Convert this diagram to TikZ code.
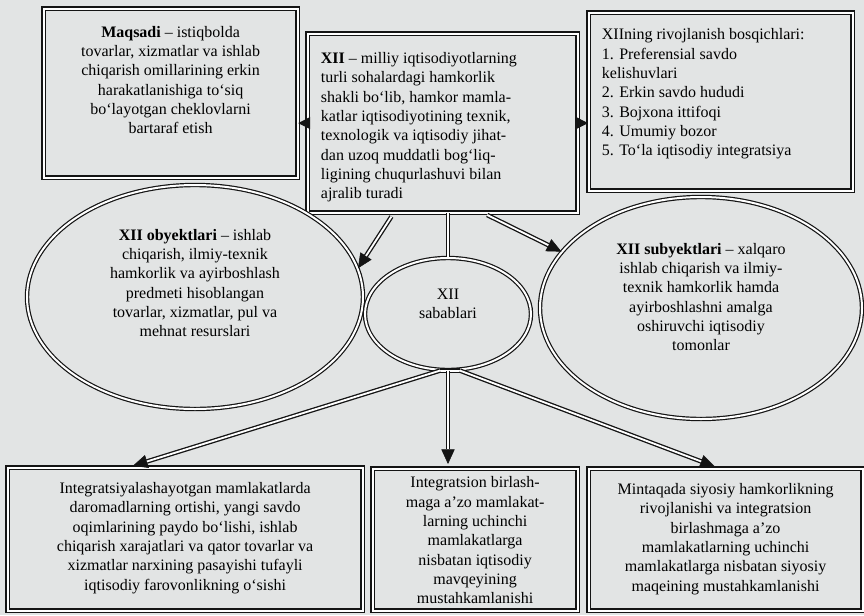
\documentclass[tikz,border=0pt]{standalone}
\usepackage{fontspec}
\setmainfont{Liberation Serif}
\usetikzlibrary{arrows.meta,positioning,calc,shapes.geometric}
\definecolor{paper}{RGB}{226,228,228}
\definecolor{ink}{RGB}{20,20,20}
\newcommand{\topbox}[3]{\parbox[c][#1][t]{#2}{#3}}

\begin{document}
\begin{tikzpicture}[x=0.75pt,y=-0.75pt,
  dbl/.style={draw=ink, line width=0.9pt, double=white, double distance=1.5pt},
  box/.style={dbl, anchor=north west, inner xsep=10pt, inner ysep=9pt,
              font=\fontsize{12}{14.5}\selectfont},
  oval/.style={dbl, ellipse, inner sep=0pt},
  txt/.style={align=center, font=\fontsize{12}{14.5}\selectfont},
  link/.style={draw=ink, line width=3.4pt,
               postaction={draw=white, line width=1.4pt}},
  arr/.style={draw=ink, line width=3.4pt,
              -{Triangle[length=11pt,width=10pt,line width=0.4pt]},
              postaction={draw=white, line width=1.4pt, -, shorten >=#1}},
  arr/.default=11pt]
  \fill[paper] (0,0) rectangle (864,615);
  \useasboundingbox (0,0) rectangle (864,615);

  % top row
  \node[box] (maqsad) at (43,8) {\topbox{108.75pt}{170.5pt}{\centering\vspace*{4pt}
    \textbf{Maqsadi} -- istiqbolda\\ tovarlar, xizmatlar va ishlab\\
    chiqarish omillarining erkin\\ harakatlanishiga to‘siq\\
    bo‘layotgan cheklovlarni\\ bartaraf etish}};
  \node[box] (xii) at (307,33) {\topbox{116.25pt}{182.5pt}{\raggedright\vspace*{5pt}
    \textbf{XII} -- milliy iqtisodiyotlarning\\ turli sohalardagi hamkorlik\\
    shakli bo‘lib, hamkor mamla-\\ katlar iqtisodiyotining texnik,\\
    texnologik va iqtisodiy jihat-\\ dan uzoq muddatli bog‘liq-\\
    ligining chuqurlashuvi bilan\\ ajralib turadi}};
  \node[box] (bosqich) at (588,12) {\topbox{115.5pt}{178pt}{\raggedright\vspace*{3pt}
    XIIning rivojlanish bosqichlari:\\ 1. Preferensial savdo\\
    kelishuvlari\\ 2. Erkin savdo hududi\\ 3. Bojxona ittifoqi\\
    4. Umumiy bozor\\ 5. To‘la iqtisodiy integratsiya}};

  % middle row
  \node[oval, minimum width=252pt, minimum height=168pt] (obyekt) at (195,297) {};
  \node[txt] (obyekttxt) at ($(obyekt.center)+(0,-14)$) {%
    \textbf{XII obyektlari} -- ishlab\\ chiqarish, ilmiy-texnik\\
    hamkorlik va ayirboshlash\\ predmeti hisoblangan\\
    tovarlar, xizmatlar, pul va\\ mehnat resurslari};
  \node[oval, minimum width=241.5pt, minimum height=166.5pt] (subyekt) at (701,308) {};
  \node[txt] (subyekttxt) at ($(subyekt.center)+(0,-11)$) {%
    \textbf{XII subyektlari} -- xalqaro\\ ishlab chiqarish va ilmiy-\\
    texnik hamkorlik hamda\\ ayirboshlashni amalga\\
    oshiruvchi iqtisodiy\\ tomonlar};
  \node[oval, minimum width=124.5pt, minimum height=84pt] (sabab) at (448,314) {};
  \node[txt] (sababtxt) at ($(sabab.center)+(0,-10)$) {XII\\ sabablari};

  % bottom row
  \node[box] (bl) at (7,467) {\topbox{89.25pt}{246.25pt}{\centering\vspace*{2pt}
    Integratsiyalashayotgan mamlakatlarda\\ daromadlarning ortishi, yangi savdo\\
    oqimlarining paydo bo‘lishi, ishlab\\ chiqarish xarajatlari va qator tovarlar va\\
    xizmatlar narxining pasayishi tufayli\\ iqtisodiy farovonlikning o‘sishi}};
  \node[box, inner ysep=6pt] (bm) at (372,468) {\topbox{94.5pt}{133.75pt}{\centering
    Integratsion birlash-\\ maga a’zo mamlakat-\\ larning uchinchi\\
    mamlakatlarga\\ nisbatan iqtisodiy\\ mavqeyining\\ mustahkamlanishi}};
  \node[box] (br) at (588,468) {\topbox{88.5pt}{185.5pt}{\centering\vspace*{2pt}
    Mintaqada siyosiy hamkorlikning\\ rivojlanishi va integratsion\\
    birlashmaga a’zo\\ mamlakatlarning uchinchi\\
    mamlakatlarga nisbatan siyosiy\\ maqeining mustahkamlanishi}};

  % arrows from the definition
  \draw[ink, line width=0.8pt, -{Triangle[length=9pt,width=9pt]}] (xii.west) -- (xii.west -| maqsad.east);
  \draw[ink, line width=0.8pt, -{Triangle[length=9pt,width=9pt]}] (xii.east) -- (xii.east -| bosqich.west);
  \draw[arr, shorten <=3pt] ($(xii.south)+(-49,0)$) -- (obyekt.10);
  \draw[arr, shorten <=3pt] ($(xii.south)+(41,0)$) -- (subyekt.158);
  \draw[link] (sabab.north |- xii.south) -- (sabab.north);

  % arrows from the reasons
  \draw[link] ($(sabab.south)+(-8,0)$) -- ($(sabab.south)+(12,0)$);
  \draw[arr=14pt, shorten >=3pt] ($(sabab.south)+(-8,0)$) -- ($(bl.north)+(-56,0)$);
  \draw[arr=14pt, shorten >=3pt] (sabab.south) -- (sabab.south |- bm.north);
  \draw[arr=14pt, shorten >=3pt] ($(sabab.south)+(12,0)$) -- ($(br.north)+(-7,0)$);
\end{tikzpicture}
\end{document}
